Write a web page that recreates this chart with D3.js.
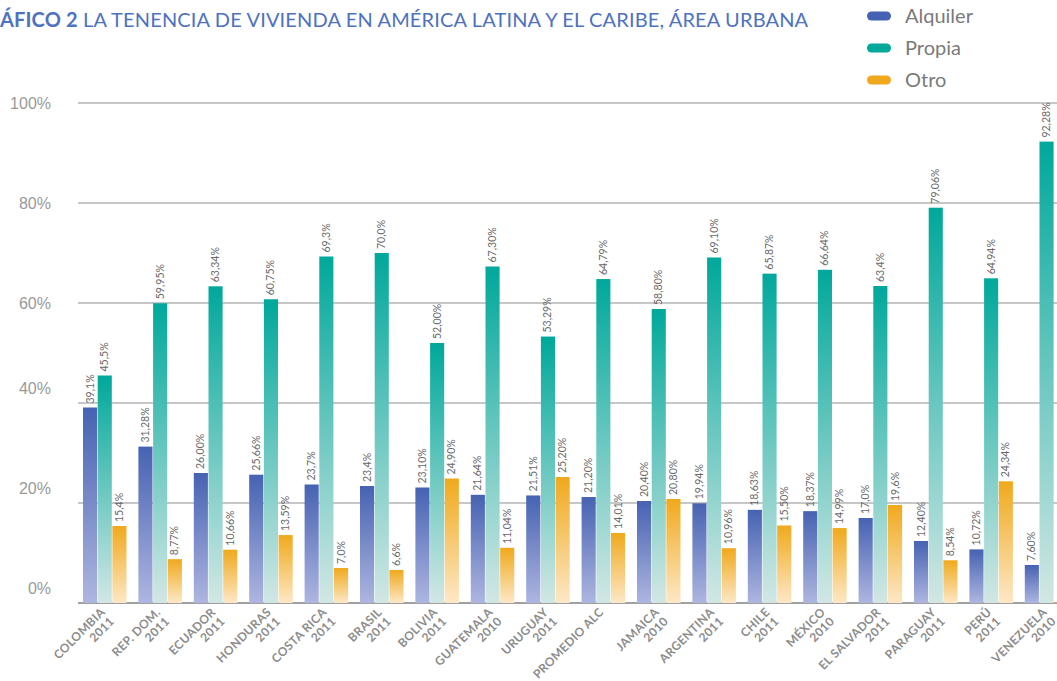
<!DOCTYPE html>
<meta charset="utf-8">
<style>
  body { margin: 0; background: #fff; overflow: hidden; }
  svg { display: block; font-family: Lato, "Open Sans", sans-serif; }
  .grid line { stroke: #b4b4b4; stroke-width: 1.5; }
  .yaxis text { font-size: 16px; fill: #999; }
  .val { font-size: 10.5px; fill: #6a6a6a; }
  .xlab { font-size: 12px; fill: #8c8c8c; font-weight: bold; letter-spacing: 0.3px; }
  .legend text { font-size: 20px; fill: #7a7a7a; }
</style>
<body>
<svg></svg>
<script src="https://d3js.org/d3.v7.min.js"></script>
<script>
const countries = ["COLOMBIA", "REP. DOM.", "ECUADOR", "HONDURAS", "COSTA RICA", "BRASIL",
  "BOLIVIA", "GUATEMALA", "URUGUAY", "PROMEDIO ALC", "JAMAICA", "ARGENTINA", "CHILE",
  "MÉXICO", "EL SALVADOR", "PARAGUAY", "PERÚ", "VENEZUELA"];
const years = ["2011", "2011", "2011", "2011", "2011", "2011", "2011", "2010", "2011", "",
  "2010", "2011", "2011", "2010", "2011", "2011", "2011", "2010"];
const series = ["Alquiler", "Propia", "Otro"];
const alquiler = [39.1, 31.28, 26.00, 25.66, 23.7, 23.4, 23.10, 21.64, 21.51, 21.20, 20.40, 19.94, 18.63, 18.37, 17.0, 12.40, 10.72, 7.60];
const propia = [45.5, 59.95, 63.34, 60.75, 69.3, 70.0, 52.00, 67.30, 53.29, 64.79, 58.80, 69.10, 65.87, 66.64, 63.4, 79.06, 64.94, 92.28];
const otro = [15.4, 8.77, 10.66, 13.59, 7.0, 6.6, 24.90, 11.04, 25.20, 14.01, 20.80, 10.96, 15.50, 14.99, 19.6, 8.54, 24.34, 0.12];
const valueLabels = {
  Alquiler: ["39,1%", "31,28%", "26,00%", "25,66%", "23,7%", "23,4%", "23,10%", "21,64%", "21,51%", "21,20%", "20,40%", "19,94%", "18,63%", "18,37%", "17,0%", "12,40%", "10,72%", "7,60%"],
  Propia: ["45,5%", "59,95%", "63,34%", "60,75%", "69,3%", "70,0%", "52,00%", "67,30%", "53,29%", "64,79%", "58,80%", "69,10%", "65,87%", "66,64%", "63,4%", "79,06%", "64,94%", "92,28%"],
  Otro: ["15,4%", "8,77%", "10,66%", "13,59%", "7,0%", "6,6%", "24,90%", "11,04%", "25,20%", "14,01%", "20,80%", "10,96%", "15,50%", "14,99%", "19,6%", "8,54%", "24,34%", "0,12%"]
};
const yTicks = [0, 20, 40, 60, 80, 100];

const values = { Alquiler: alquiler, Propia: propia, Otro: otro };
const colors = {
  Alquiler: ["#4662b2", "#aeb6e0"],
  Propia: ["#00a89b", "#d2e7e4"],
  Otro: ["#f0a91c", "#fde8c6"]
};

const width = 1057, height = 681;
const svg = d3.select("svg").attr("width", width).attr("height", height);

const defs = svg.append("defs");
series.forEach(s => {
  const g = defs.append("linearGradient").attr("id", "grad-" + s)
    .attr("x1", 0).attr("y1", 0).attr("x2", 0).attr("y2", 1);
  g.append("stop").attr("offset", "0%").attr("stop-color", colors[s][0]);
  g.append("stop").attr("offset", "100%").attr("stop-color", colors[s][1]);
});

const step = 55.4, band = 43.5;
const x = d3.scaleBand()
  .domain(countries)
  .range([83, 83 + countries.length * step - (step - band)])
  .paddingInner(1 - band / step)
  .paddingOuter(0);
const xs = d3.scaleBand().domain(series).range([0, x.bandwidth()]).paddingInner(0.04);
const y = d3.scaleLinear().domain([0, 100]).range([603, 103]);

// gridlines
svg.append("g").attr("class", "grid")
  .selectAll("line").data(yTicks).join("line")
  .attr("x1", 78).attr("x2", width)
  .attr("y1", d => y(d)).attr("y2", d => y(d))
  .style("stroke", d => d === 0 ? "#a0a0a0" : null)
  .style("stroke-width", d => d === 0 ? 2 : null);

// y axis labels (lower ones sit above their line, as in the source)
const yAxis = svg.append("g").attr("class", "yaxis")
  .attr("transform", "translate(51,0)")
  .call(d3.axisLeft(y).tickValues(yTicks).tickFormat(d => d + "%").tickSize(0).tickPadding(0));
yAxis.select(".domain").remove();
yAxis.selectAll("text").attr("font-family", null).attr("font-size", null)
  .attr("y", d => d <= 40 ? -15 : 0);

// bars
const groups = svg.append("g").selectAll("g").data(countries).join("g")
  .attr("transform", d => `translate(${x(d)},0)`);

const cells = groups.selectAll("g").data((c, i) => series.map(s => ({ s, v: values[s][i], label: valueLabels[s][i] })))
  .join("g");

cells.append("rect")
  .attr("x", d => xs(d.s))
  .attr("width", xs.bandwidth())
  .attr("y", d => y(d.v))
  .attr("height", d => y(0) - y(d.v))
  .attr("fill", d => `url(#grad-${d.s})`);

cells.filter(d => d.v > 1).append("text").attr("class", "val")
  .attr("transform", d => `translate(${xs(d.s) + xs.bandwidth() / 2 + 3.5},${y(d.v) - 4}) rotate(-90)`)
  .text(d => d.label);

// x labels
const xl = svg.append("g").selectAll("text").data(countries).join("text")
  .attr("class", "xlab")
  .attr("text-anchor", "end")
  .attr("transform", d => `translate(${x(d) + x.bandwidth() / 2 + 1},613) rotate(-45)`);
xl.append("tspan").attr("x", 0).attr("dy", 0).text(d => d);
xl.append("tspan").attr("x", 0).attr("dy", 13).text((d, i) => years[i]);

// title
const title = svg.append("text").attr("x", 0).attr("y", 27)
  .attr("font-size", 20).attr("fill", "#4f72be").attr("letter-spacing", 0.15);
title.append("tspan").attr("font-weight", "bold").text("ÁFICO 2");
title.append("tspan").text(" LA TENENCIA DE VIVIENDA EN AMÉRICA LATINA Y EL CARIBE, ÁREA URBANA");

// legend
const legend = svg.append("g").attr("class", "legend")
  .selectAll("g").data(series).join("g")
  .attr("transform", (d, i) => `translate(867,${16 + i * 32})`);
legend.append("rect").attr("x", 0).attr("y", -4.5).attr("width", 24).attr("height", 9).attr("rx", 4.5)
  .attr("fill", d => colors[d][0]);
legend.append("text").attr("x", 38).attr("dy", "0.35em").text(d => d);
</script>
</body>
